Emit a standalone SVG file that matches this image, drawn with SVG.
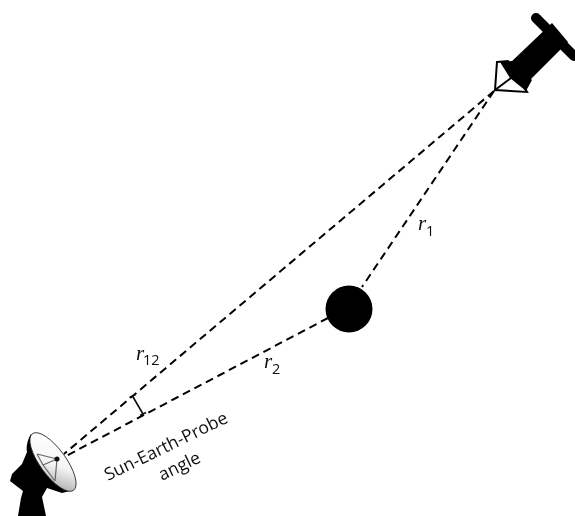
<svg xmlns="http://www.w3.org/2000/svg" width="575" height="516" viewBox="0 0 575 516">
<defs>
<style>
.dash{fill:none;stroke:#000;stroke-width:2;stroke-dasharray:8 5}
.t{font-family:"Open Sans","Noto Sans",sans-serif;font-size:17.500px;fill:#111}
.m{font-family:"Liberation Serif",serif;font-style:italic;font-size:21px;fill:#111}
.s{font-family:"Open Sans",sans-serif;font-size:14.500px;fill:#111}
</style>
<linearGradient id="dish" gradientUnits="userSpaceOnUse" x1="38" y1="444" x2="68" y2="486">
<stop offset="0" stop-color="#fff"/><stop offset=".5" stop-color="#f4f4f4"/><stop offset="1" stop-color="#a8a8a8"/>
</linearGradient>
<filter id="soft" filterUnits="userSpaceOnUse" x="0" y="0" width="575" height="516"><feGaussianBlur stdDeviation="0.400"/></filter>
</defs>
<rect width="575" height="516" fill="#fff"/>
<g filter="url(#soft)">
<g id="connectors">
<path class="dash" d="M494 91L64 454"/>
<path class="dash" d="M494 91L362 287"/>
<path class="dash" d="M328 318L66 456"/>
<path d="M132.500 396L143 414M129.500 397.500L135.500 394.500M140 415.500L146 412.500" fill="none" stroke="#111" stroke-width="1.600"/>
</g>
<g id="probe">
<path d="M510 63L552 23L568 42L528 82Z" fill="#000"/>
<path d="M536 18L574 56" fill="none" stroke="#000" stroke-width="10" stroke-linecap="round"/>
<path d="M497 62L508 61L527 92L495 90Z" fill="#fff" stroke="#000" stroke-width="2"/>
<path d="M500 62L512 61L532 80L526 91L510 78Z" fill="#000"/>
<path d="M495 90L511 78" fill="none" stroke="#000" stroke-width="2"/>
</g>
<g id="sun"><circle cx="349" cy="309" r="23.500" fill="#000"/></g>
<g id="antenna">
<path d="M31 434C27 440 26 448 27 452L22 464L12 474L10 481L23 491L21 498L18 516L46 516L42 497L47 488L62 493L70 491Z" fill="#000"/>
<ellipse cx="53" cy="462" rx="35" ry="13" transform="rotate(54 53 462)" fill="url(#dish)" stroke="#222" stroke-width="0.800"/>
<path d="M37 454L57 459M43 465L57 459M55 481L57 459M37 454L43 465L55 481" fill="none" stroke="#666" stroke-width="1.200"/>
<circle cx="57" cy="459" r="2.500" fill="#111"/>
</g>
<g id="labels">
<text class="m" x="136" y="360">r</text><text class="s" x="143" y="365">12</text>
<text class="m" x="264" y="368">r</text><text class="s" x="272" y="374">2</text>
<text class="m" x="418" y="230">r</text><text class="s" x="426" y="236">1</text>
<text class="t" transform="translate(108 481) rotate(-26)">Sun-Earth-Probe</text>
<text class="t" transform="translate(162 481) rotate(-26)">angle</text>
</g>
</g>
</svg>
